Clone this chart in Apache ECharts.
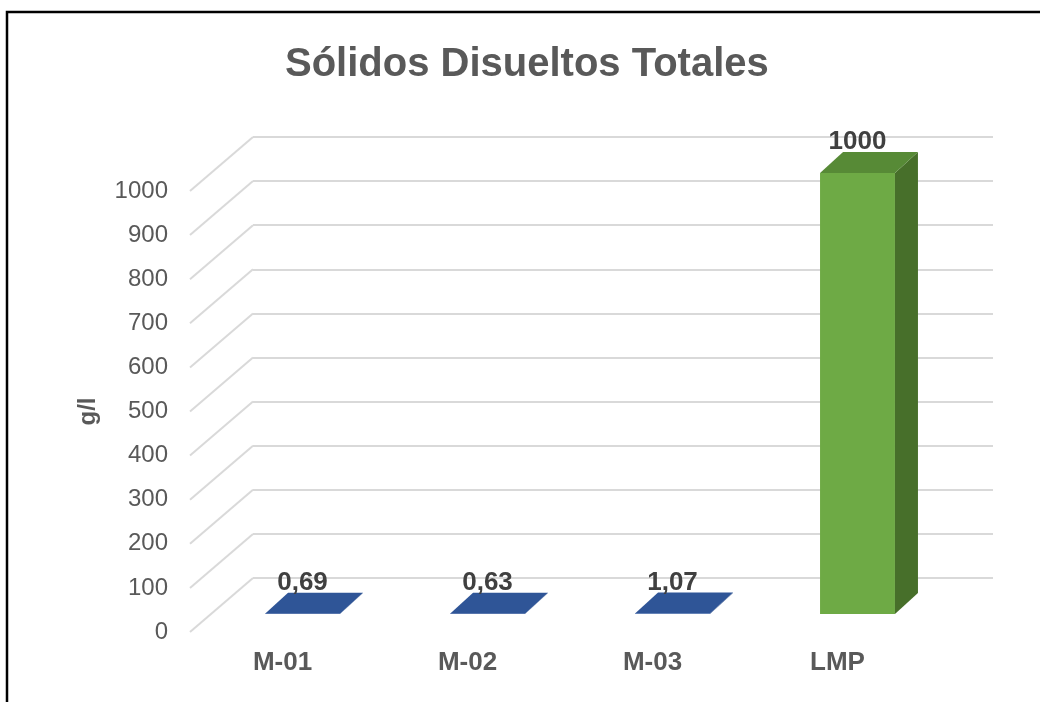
<!DOCTYPE html>
<html>
<head>
<meta charset="utf-8">
<script src="https://cdn.jsdelivr.net/npm/echarts@6/dist/echarts.min.js"></script>
<style>
  html, body { margin: 0; padding: 0; background: #fff; }
  #chart { width: 1040px; height: 702px; }
</style>
</head>
<body>
<div id="chart"></div>
<script>
const categories = ['M-01', 'M-02', 'M-03', 'LMP'];
const values = [0.69, 0.63, 1.07, 1000];
const yTicks = [0, 100, 200, 300, 400, 500, 600, 700, 800, 900, 1000];

const FONT = "'Liberation Sans', Arial, sans-serif";
// depth of the floor (back wall -> front edge), in px
const DX = -63, DY = 54;
// bar front face / depth
const FX = -43, FY = 36;
const BDX = 23, BDY = -21;

const chart = echarts.init(document.getElementById('chart'));

function fmt(v) {
  return String(v).replace('.', ',');
}

const option = {
  animation: false,
  backgroundColor: '#fff',
  textStyle: { fontFamily: FONT },
  title: {
    text: 'Sólidos Disueltos Totales',
    left: 285,
    top: 45,
    padding: 0,
    textStyle: { fontFamily: FONT, fontSize: 40, fontWeight: 'bold', color: '#595959' },
  },
  graphic: [
    {
      type: 'rect',
      shape: { x: 7, y: 12, width: 1100, height: 800 },
      style: { fill: 'none', stroke: '#000', lineWidth: 2.5 },
      silent: true,
    },
  ],
  grid: [
    // back wall
    { left: 253, right: 47, top: 137, bottom: 124 },
    // front edge (only for labels)
    { left: 253 + DX, right: 47 - DX, top: 137 + DY, bottom: 124 - DY },
  ],
  xAxis: [
    {
      gridIndex: 0,
      type: 'category',
      data: categories,
      axisLine: { show: false },
      axisTick: { show: false },
      axisLabel: { show: false },
    },
    {
      gridIndex: 1,
      type: 'category',
      data: categories,
      axisLine: { show: false },
      axisTick: { show: false },
      axisLabel: {
        margin: 18,
        fontFamily: FONT,
        fontSize: 26,
        fontWeight: 'bold',
        color: '#595959',
      },
    },
  ],
  yAxis: [
    {
      gridIndex: 0,
      type: 'value',
      min: 0,
      max: 1000,
      interval: 100,
      axisLine: { show: false },
      axisTick: { show: false },
      axisLabel: { show: false },
      splitLine: { lineStyle: { color: '#d9d9d9', width: 2 } },
    },
    {
      gridIndex: 1,
      type: 'value',
      min: 0,
      max: 1000,
      interval: 100,
      name: 'g/l',
      nameLocation: 'middle',
      nameRotate: 90,
      nameGap: 90,
      nameTextStyle: { fontFamily: FONT, fontSize: 24, fontWeight: 'bold', color: '#595959' },
      axisLine: { show: false },
      axisTick: { show: false },
      splitLine: { show: false },
      axisLabel: {
        margin: 22,
        fontFamily: FONT,
        fontSize: 24,
        color: '#595959',
        padding: [0, 0, 8, 0],
        formatter: (val) => String(val),
      },
    },
  ],
  series: [
    {
      // diagonal floor/side lines
      type: 'custom',
      xAxisIndex: 0,
      yAxisIndex: 0,
      silent: true,
      z: 1,
      data: yTicks.map((v) => [0, v]),
      renderItem: (params, api) => {
        const p = api.coord([0, api.value(1)]);
        const x = p[0] - api.size([1, 0])[0] / 2;
        return {
          type: 'line',
          shape: { x1: x, y1: p[1], x2: x + DX, y2: p[1] + DY },
          style: { stroke: '#d9d9d9', lineWidth: 2 },
        };
      },
    },
    {
      // 3D bars
      type: 'custom',
      xAxisIndex: 0,
      yAxisIndex: 0,
      z: 3,
      data: values.map((v, i) => [i, v]),
      renderItem: (params, api) => {
        const i = api.value(0);
        const v = api.value(1);
        const c = api.coord([i, v]);
        const c0 = api.coord([i, 0]);
        const hw = api.size([1, 0])[0] * 0.405 / 2;
        const cx = c[0] + FX;
        const yTop = c[1] + FY;
        const yBot = c0[1] + FY;
        const isLmp = categories[i] === 'LMP';
        const col = isLmp
          ? { front: '#6EAA45', top: '#578A36', side: '#476F2A' }
          : { front: '#3A66B0', top: '#2F5597', side: '#264780' };
        return {
          type: 'group',
          children: [
            {
              type: 'polygon',
              shape: { points: [[cx - hw, yTop], [cx + hw, yTop], [cx + hw, yBot], [cx - hw, yBot]] },
              style: { fill: col.front },
            },
            {
              type: 'polygon',
              shape: { points: [[cx + hw, yTop], [cx + hw + BDX, yTop + BDY], [cx + hw + BDX, yBot + BDY], [cx + hw, yBot]] },
              style: { fill: col.side },
            },
            {
              type: 'polygon',
              shape: { points: [[cx - hw, yTop], [cx + hw, yTop], [cx + hw + BDX, yTop + BDY], [cx - hw + BDX, yTop + BDY]] },
              style: { fill: col.top },
            },
            {
              type: 'text',
              style: {
                text: fmt(v),
                x: cx,
                y: yTop + BDY - 10,
                align: 'center',
                verticalAlign: 'middle',
                fontFamily: FONT,
                fontSize: 26,
                fontWeight: 'bold',
                fill: '#404040',
              },
            },
          ],
        };
      },
    },
  ],
};

chart.setOption(option);
</script>
</body>
</html>
